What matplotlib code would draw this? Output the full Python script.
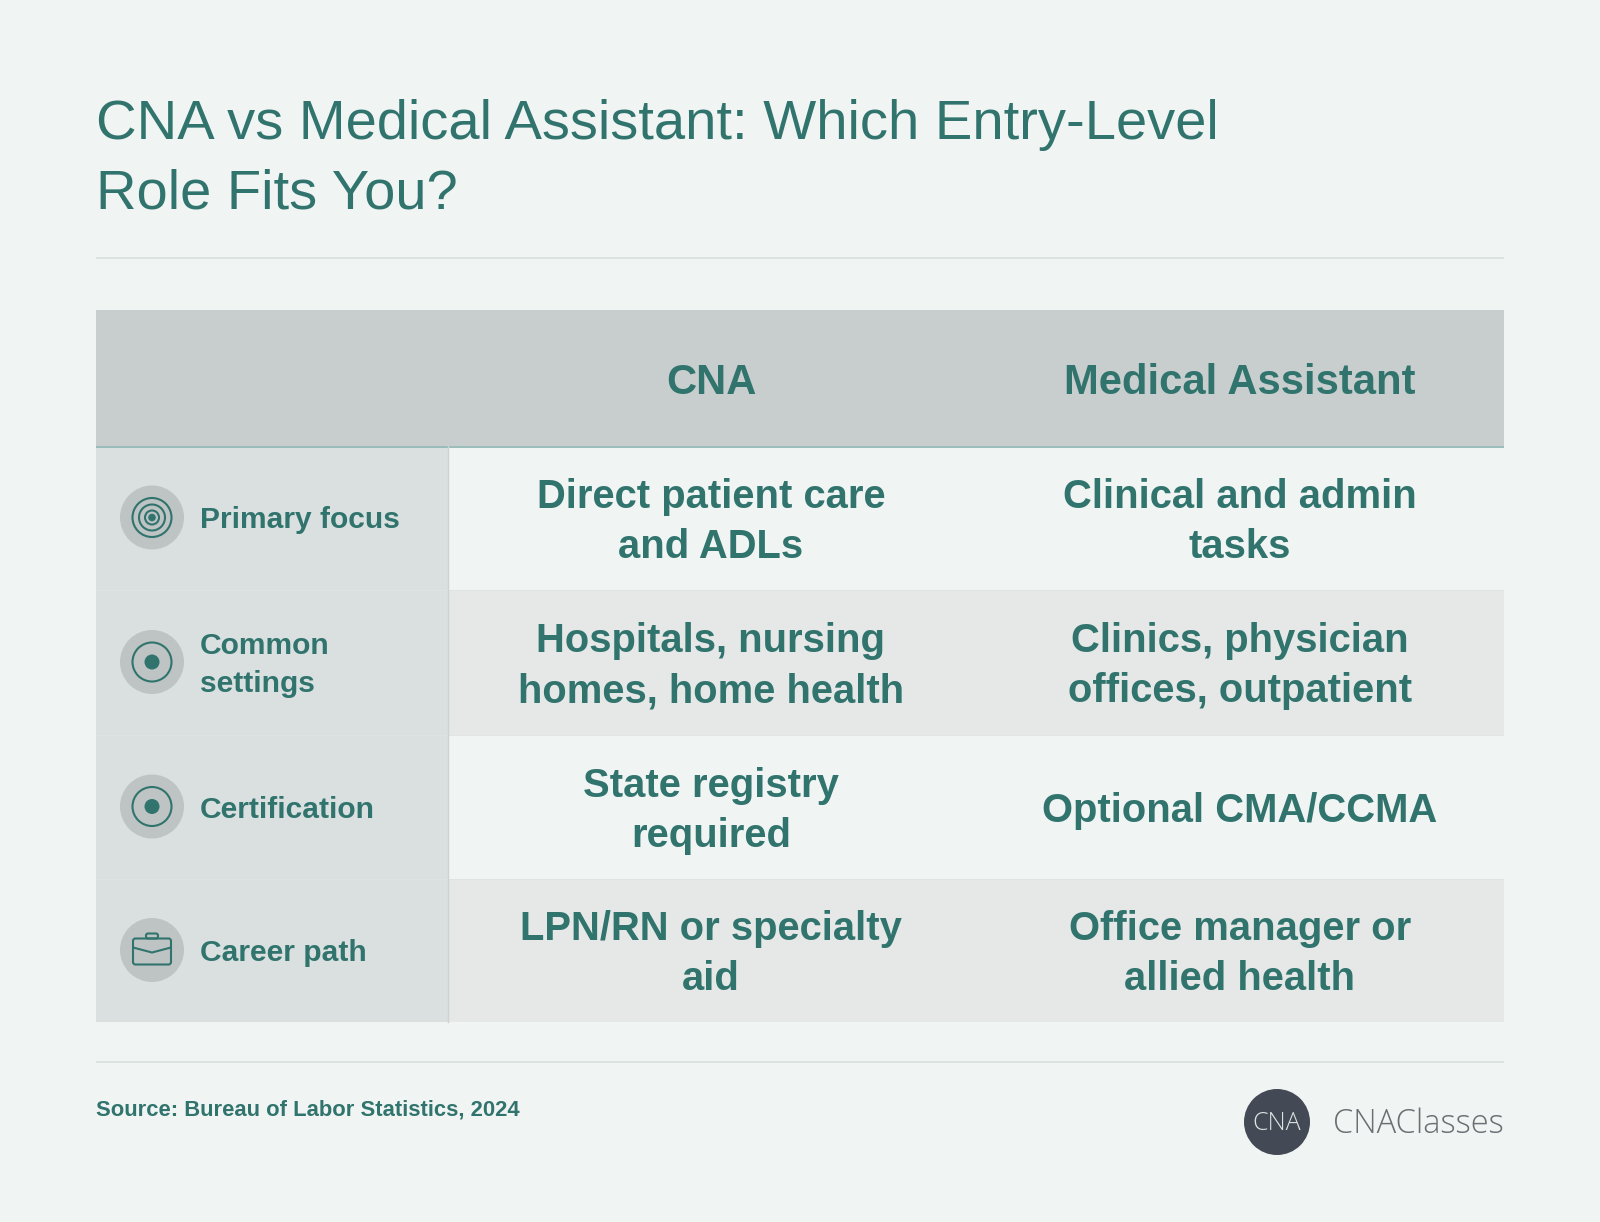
import matplotlib
matplotlib.use("Agg")
import matplotlib.pyplot as plt
from matplotlib.patches import Rectangle, Circle, FancyBboxPatch, Polygon

W, H = 1600, 1222
title_lines = ["CNA vs Medical Assistant: Which Entry-Level", "Role Fits You?"]
columns = ["CNA", "Medical Assistant"]
row_labels = ["Primary focus", "Common\nsettings", "Certification", "Career path"]
cna_values = ["Direct patient care\nand ADLs", "Hospitals, nursing\nhomes, home health",
              "State registry\nrequired", "LPN/RN or specialty\naid"]
ma_values = ["Clinical and admin\ntasks", "Clinics, physician\noffices, outpatient",
             "Optional CMA/CCMA", "Office manager or\nallied health"]
icons = ["rings", "dot", "dot", "case"]
source = "Source: Bureau of Labor Statistics, 2024"
brand = "CNAClasses"
badge = "CNA"

BG, HEAD, SIDE, ALT = "#F0F4F3", "#C8CECE", "#DAE0E0", "#E5E8E7"
TEAL, RULE, HLINE = "#31746D", "#D5E0DE", "#9ABDB9"
L, R = 96, 1504
SPLIT = 448
HEAD_TOP, HEAD_BOT = 310, 446
ROW_EDGES = [446, 590, 735, 879, 1022]
C1, C2 = 711, 1240

plt.rcParams["font.family"] = ["Liberation Sans", "DejaVu Sans"]
fig = plt.figure(figsize=(W / 100, H / 100), dpi=100, facecolor=BG)
ax = fig.add_axes([0, 0, 1, 1])
ax.set_xlim(0, W)
ax.set_ylim(H, 0)
ax.axis("off")
pt = lambda px: px * 0.72

def rect(x0, y0, x1, y1, c, z=1):
    ax.add_patch(Rectangle((x0, y0), x1 - x0, y1 - y0, fc=c, ec="none", zorder=z))

def hline(y, c, lw, x0=L, x1=R, z=3):
    ax.plot([x0, x1], [y, y], color=c, lw=lw, solid_capstyle="butt", zorder=z)

for i, line in enumerate(title_lines):
    ax.text(96, 125 + i * 69.5, line, fontsize=pt(56.1), color=TEAL, va="center", ha="left")
hline(258, RULE, 1.2)

rect(L, HEAD_TOP, R, HEAD_BOT, HEAD)
for cx, name in zip((C1, C2), columns):
    ax.text(cx, 382.5, name, fontsize=pt(41.8), fontweight="bold", color=TEAL, ha="center", va="center")
hline(446.5, HLINE, 1.4)

def draw_icon(cx, cy, kind):
    ax.add_patch(Circle((cx, cy), 32, fc="#BEC3C4", ec="none", zorder=4))
    if kind == "rings":
        for r in (19.5, 13, 7):
            ax.add_patch(Circle((cx, cy), r, fc="none", ec=TEAL, lw=1.5, zorder=5))
        ax.add_patch(Circle((cx, cy), 3.8, fc=TEAL, ec="none", zorder=5))
    elif kind == "dot":
        ax.add_patch(Circle((cx, cy), 19.5, fc="none", ec=TEAL, lw=1.5, zorder=5))
        ax.add_patch(Circle((cx, cy), 7.5, fc=TEAL, ec="none", zorder=5))
    else:
        ax.add_patch(FancyBboxPatch((cx - 19, cy - 11.5), 38, 26, boxstyle="round,pad=0,rounding_size=2.5",
                                    fc="none", ec=TEAL, lw=1.5, zorder=5))
        ax.add_patch(FancyBboxPatch((cx - 6, cy - 16.5), 12, 5, boxstyle="round,pad=0,rounding_size=2",
                                    fc="none", ec=TEAL, lw=1.5, zorder=5))
        ax.add_patch(Polygon([(cx - 19, cy - 2.5), (cx, cy + 2.5), (cx + 19, cy - 2.5)], closed=False,
                             fc="none", ec=TEAL, lw=1.5, zorder=5))

rows = zip(ROW_EDGES[:-1], ROW_EDGES[1:], row_labels, cna_values, ma_values, icons)
for i, (y0, y1, lab, a, b, ic) in enumerate(rows):
    ym = (y0 + y1) / 2
    rect(L, y0, SPLIT, y1, SIDE, 2)
    if i % 2:
        rect(SPLIT, y0, R, y1, ALT, 2)
    if i:
        hline(y0, "#DFE3E2", 0.6, z=3)
    draw_icon(152, ym - 0.5, ic)
    parts = lab.split("\n")
    for k, p in enumerate(parts):
        ax.text(200, ym + 2.5 + (k - (len(parts) - 1) / 2) * 38, p, fontsize=pt(30), fontweight="bold",
                color=TEAL, va="center", ha="left")
    for cx, t in ((C1, a), (C2, b)):
        parts = t.split("\n")
        n = len(parts)
        for k, p in enumerate(parts):
            ax.text(cx, ym + (k - (n - 1) / 2) * 50 + 4, p, fontsize=pt(40), fontweight="bold",
                    color=TEAL, ha="center", va="center")
ax.plot([448, 448], [446, 1022], color="#CDD3D3", lw=1.0, zorder=3)

hline(1062, RULE, 1.2)
ax.text(96, 1110, source, fontsize=pt(22), fontweight="bold", color=TEAL, va="center", ha="left")
ax.add_patch(Circle((1277, 1122), 33, fc="#434955", ec="none", zorder=4))
ax.text(1277, 1124, badge, fontsize=pt(25), color="#DDE1E1", ha="center", va="center", zorder=5,
        family="Open Sans", fontweight="light")
ax.text(1504, 1124, brand, fontsize=pt(32.7), color="#6A6F73", ha="right", va="center",
        family="Open Sans", fontweight="light")

fig.savefig("out.png", dpi=100, facecolor=BG)
